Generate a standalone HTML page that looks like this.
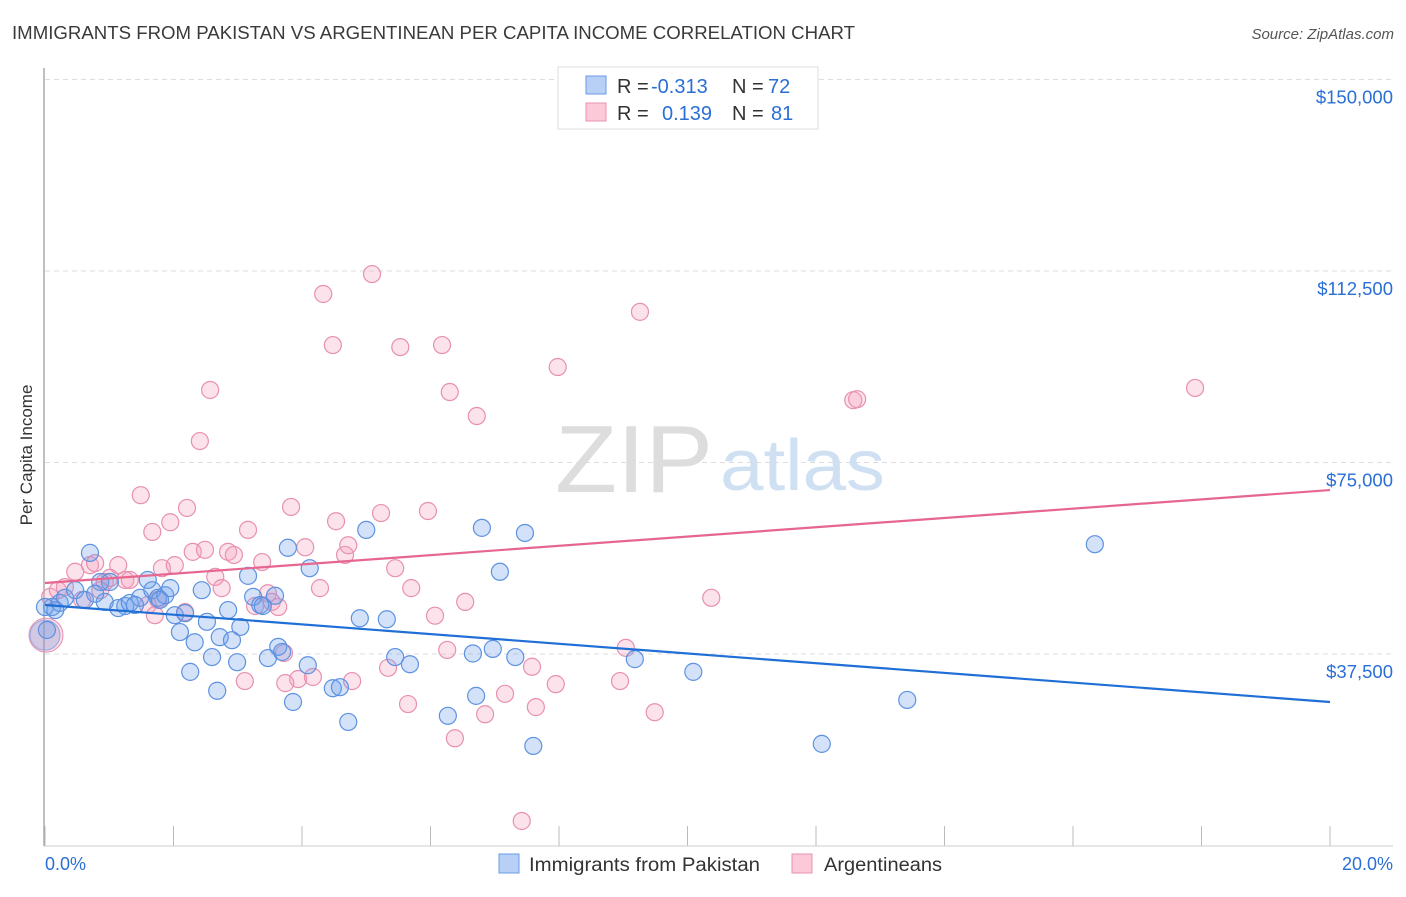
<!DOCTYPE html>
<html><head><meta charset="utf-8"><style>
body{margin:0;background:#fff;font-family:"Liberation Sans",sans-serif;}
svg text{font-family:"Liberation Sans",sans-serif;}
</style></head><body>
<svg id="chart" width="1406" height="892">
<text x="12" y="39" font-size="18" fill="#3a3a3a" textLength="843" lengthAdjust="spacingAndGlyphs">IMMIGRANTS FROM PAKISTAN VS ARGENTINEAN PER CAPITA INCOME CORRELATION CHART</text>
<text x="1394" y="39" font-size="15" fill="#555" font-style="italic" text-anchor="end">Source: ZipAtlas.com</text>
<g id="grid"></g>
<text x="555" y="492" font-size="96" fill="#ddd" font-family="Liberation Serif" textLength="158" lengthAdjust="spacingAndGlyphs">ZIP</text>
<text x="720" y="490" font-size="72" fill="#cfe0f3" textLength="165" lengthAdjust="spacingAndGlyphs">atlas</text>
<line x1="44" y1="68" x2="44" y2="846" stroke="#aaa" stroke-width="1.5"/>
<line x1="44" y1="846" x2="1393" y2="846" stroke="#ccc"/>
<text x="32" y="455" font-size="17" fill="#333" text-anchor="middle" transform="rotate(-90 32 455)">Per Capita Income</text>
<g id="pts"></g>
<g id="lines"></g>
<rect x="558" y="67" width="260" height="62" fill="#fff" stroke="#ddd"/>
<rect x="586" y="76" width="20" height="18" fill="#b8d0f5" stroke="#6a9be8"/>
<rect x="586" y="103" width="20" height="18" fill="#fbc9d8" stroke="#e890b0"/>
<text y="93" font-size="20"><tspan x="617" fill="#333">R = </tspan><tspan x="651" fill="#2a6fd6">-0.313</tspan><tspan x="732" fill="#333">N = </tspan><tspan x="768" fill="#2a6fd6">72</tspan></text>
<text y="120" font-size="20"><tspan x="617" fill="#333">R = </tspan><tspan x="662" fill="#2a6fd6">0.139</tspan><tspan x="732" fill="#333">N = </tspan><tspan x="771" fill="#2a6fd6">81</tspan></text>
<text x="45" y="870" font-size="18" fill="#2a6fd6">0.0%</text>
<text x="1393" y="870" font-size="18" fill="#2a6fd6" text-anchor="end">20.0%</text>
<rect x="499" y="854" width="20" height="19" fill="#b8d0f5" stroke="#6a9be8"/>
<text x="529" y="871" font-size="19" fill="#333" textLength="231" lengthAdjust="spacingAndGlyphs">Immigrants from Pakistan</text>
<rect x="792" y="854" width="20" height="19" fill="#fbc9d8" stroke="#e890b0"/>
<text x="824" y="871" font-size="19" fill="#333" textLength="118" lengthAdjust="spacingAndGlyphs">Argentineans</text>
</svg>
<script>
const yTicks=[37500,75000,112500,150000];
const yTickLabels=["$37,500","$75,000","$112,500","$150,000"];
const xTicks=[0,2,4,6,8,10,12,14,16,18,20];
const blueX=[0.11,0.23,0.31,0.47,0.62,0.70,0.86,0.93,1.01,1.14,1.25,1.32,1.48,1.60,1.67,1.76,1.87,1.95,2.02,2.10,2.26,2.33,2.44,2.52,2.60,2.68,2.72,2.85,2.91,2.99,3.04,3.16,3.24,3.35,3.39,3.47,3.58,3.63,3.69,3.78,3.86,4.09,4.12,4.48,4.59,4.72,4.90,5.00,5.32,5.45,5.68,6.27,6.66,6.71,6.80,6.97,7.08,7.32,7.47,7.60,9.18,10.09,12.09,13.42,16.34,0.0,0.03,0.16,0.78,1.40,1.79,2.18];
const blueY=[46.7,47.5,48.5,50.0,48.1,57.3,51.6,47.7,51.6,46.5,46.9,47.5,48.5,52.0,50.0,48.5,49.0,50.4,45.1,41.8,34.0,39.8,50.0,43.8,36.9,30.3,40.8,46.1,40.2,35.9,42.8,52.8,48.7,47.1,46.9,36.7,48.9,38.9,37.9,58.3,28.1,35.3,54.3,30.8,31.0,24.2,44.5,61.8,44.3,36.9,35.5,25.4,37.6,29.3,62.2,38.5,53.6,36.9,61.2,19.5,36.5,34.0,19.9,28.5,59.0,46.7,42.2,46.1,49.3,47.1,48.1,45.5];
const pinkX=[0.08,0.20,0.31,0.47,0.58,0.70,0.78,0.86,0.93,1.01,1.14,1.25,1.32,1.49,1.60,1.67,1.76,1.82,1.95,2.02,2.18,2.21,2.30,2.41,2.49,2.57,2.65,2.75,2.85,2.94,3.11,3.16,3.27,3.38,3.47,3.53,3.63,3.72,3.83,3.94,4.05,4.17,4.28,4.33,4.48,4.53,4.67,4.72,4.78,5.09,5.23,5.34,5.45,5.53,5.65,5.70,5.96,6.07,6.18,6.26,6.30,6.38,6.54,6.72,6.85,7.16,7.42,7.58,7.64,7.95,7.98,8.95,9.04,9.26,9.49,10.37,12.58,12.64,17.90,3.74,1.71];
const pinkY=[48.7,50.0,50.6,53.6,48.1,54.9,55.3,50.0,51.6,52.4,54.9,52.0,52.0,68.6,47.1,61.4,48.1,54.3,63.3,54.9,45.7,66.1,57.5,79.2,57.9,89.2,52.6,50.4,57.5,56.9,32.2,61.8,46.9,55.5,49.4,47.7,46.7,37.7,66.3,32.6,58.4,33.0,50.4,108.0,98.0,63.5,56.9,58.8,32.2,111.9,65.1,34.8,54.3,97.6,27.7,50.4,65.5,45.0,98.0,38.3,88.8,21.0,47.7,84.1,25.7,29.7,4.8,35.0,27.1,31.6,93.7,32.2,38.7,104.5,26.1,48.5,87.2,87.4,89.6,31.8,45.1];
const bigX=[0.0];
const bigY=[41.2];
const blueTrend=[47.1,28.1];
const pinkTrend=[51.4,69.6];
const NS="http://www.w3.org/2000/svg";
const sx=v=>45+v*64.25;
const sy=v=>845.5-v*191.5/37500;
function mk(t,a,p){const e=document.createElementNS(NS,t);for(const k in a)e.setAttribute(k,a[k]);p.appendChild(e);return e;}
const grid=document.getElementById('grid');
yTicks.forEach((t,i)=>{
 const l=mk('line',{x1:45,x2:1393,y1:sy(t),y2:sy(t),stroke:'#ddd','stroke-dasharray':'5,4'},grid);
 
 
 const tx=mk('text',{x:1393,y:sy(t)+24,'font-size':18.5,fill:'#2a6fd6','text-anchor':'end'},grid);
 tx.textContent=yTickLabels[i];
 
 
});
xTicks.forEach(t=>{
 const l=mk('line',{x1:sx(t),x2:sx(t),y1:826,y2:846,stroke:'#bbb'},grid);
 
 
});
const pts=document.getElementById('pts');
bigX.forEach((x,i)=>{
 const c=mk('circle',{cx:sx(x)+1,cy:sy(bigY[i]*1000),r:17,fill:'rgba(240,150,180,0.3)',stroke:'#e890b0'},pts);
 
 
 const d=mk('circle',{cx:sx(x),cy:sy(bigY[i]*1000),r:15,fill:'rgba(120,150,220,0.3)',stroke:'#9aa8e0'},pts);
 
 
});
pinkX.forEach((x,i)=>{
 const c=mk('circle',{cx:sx(x),cy:sy(pinkY[i]*1000),r:8.5,fill:'rgba(245,160,190,0.3)',stroke:'#e890b0','stroke-width':1.2},pts);
 
 
});
blueX.forEach((x,i)=>{
 const c=mk('circle',{cx:sx(x),cy:sy(blueY[i]*1000),r:8.5,fill:'rgba(110,160,235,0.3)',stroke:'#5d92e0','stroke-width':1.2},pts);
 
 
});
const lines=document.getElementById('lines');
const bl=mk('line',{x1:sx(0),y1:sy(blueTrend[0]*1000),x2:sx(20),y2:sy(blueTrend[1]*1000),stroke:'#1f6fd6','stroke-width':2.2},lines);


const pl=mk('line',{x1:sx(0),y1:sy(pinkTrend[0]*1000),x2:sx(20),y2:sy(pinkTrend[1]*1000),stroke:'#e6668f','stroke-width':2.2},lines);


</script>
</body></html>
